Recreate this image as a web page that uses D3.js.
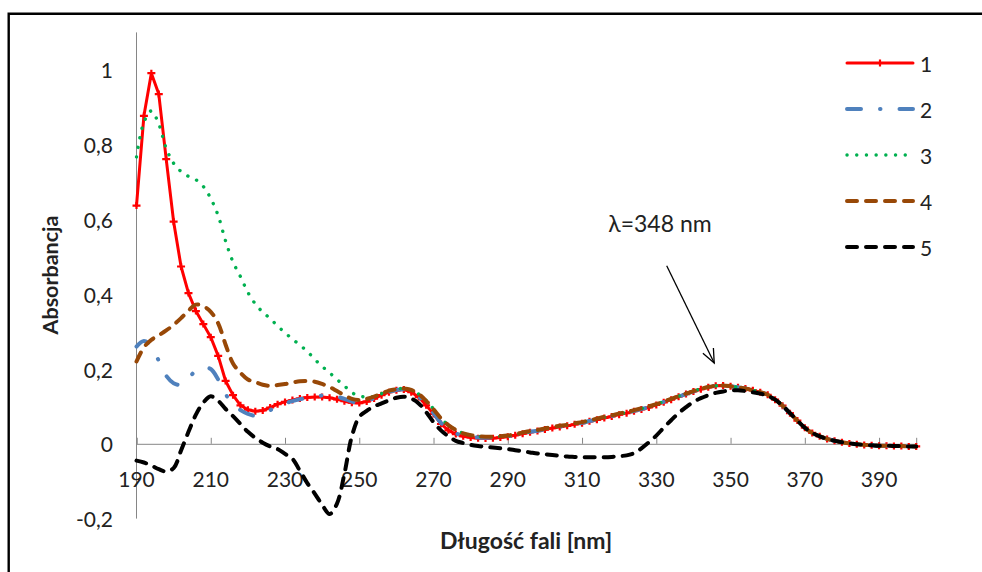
<!DOCTYPE html>
<html>
<head>
<meta charset="utf-8">
<script src="https://cdn.jsdelivr.net/npm/d3@7"></script>
<style>
  html, body { margin: 0; padding: 0; background: #fff; }
  svg { display: block; }
  text { font-family: Lato, "Open Sans", sans-serif; fill: #222; }
</style>
</head>
<body>
<svg id="chart" width="982" height="572"></svg>
<script>
// Wavelength grid (nm), every 2 nm from 190 to 400
const wavelengths = d3.range(190, 401, 2);

// Absorbance of each sample on the wavelength grid
const series1 = [
  0.637, 0.877, 0.991, 0.935, 0.761, 0.594, 0.474, 0.403, 0.355, 0.320,
  0.285, 0.235, 0.168, 0.130, 0.103, 0.091, 0.087, 0.089, 0.097, 0.106,
  0.112, 0.117, 0.121, 0.124, 0.125, 0.125, 0.123, 0.119, 0.114, 0.110,
  0.109, 0.113, 0.121, 0.130, 0.138, 0.143, 0.145, 0.138, 0.125, 0.103,
  0.080, 0.053, 0.036, 0.026, 0.020, 0.017, 0.015, 0.014, 0.015, 0.017,
  0.019, 0.023, 0.027, 0.031, 0.034, 0.038, 0.042, 0.045, 0.048, 0.052,
  0.055, 0.060, 0.064, 0.069, 0.073, 0.078, 0.082, 0.087, 0.092, 0.097,
  0.104, 0.111, 0.118, 0.126, 0.133, 0.140, 0.146, 0.151, 0.155, 0.156,
  0.154, 0.151, 0.148, 0.143, 0.138, 0.131, 0.118, 0.102, 0.082, 0.062,
  0.043, 0.029, 0.020, 0.013, 0.008, 0.004, 0.001, -0.001, -0.003, -0.004,
  -0.005, -0.005, -0.006, -0.006, -0.007, -0.007
];
const series2 = [
  0.260, 0.275, 0.260, 0.222, 0.182, 0.162, 0.158, 0.175, 0.196, 0.204,
  0.200, 0.172, 0.133, 0.105, 0.090, 0.080, 0.075, 0.080, 0.090, 0.100,
  0.108, 0.114, 0.119, 0.123, 0.127, 0.129, 0.129, 0.126, 0.120, 0.113,
  0.110, 0.114, 0.122, 0.131, 0.139, 0.144, 0.146, 0.139, 0.126, 0.105,
  0.082, 0.056, 0.038, 0.028, 0.022, 0.019, 0.017, 0.016, 0.017, 0.019,
  0.020, 0.024, 0.028, 0.032, 0.035, 0.039, 0.043, 0.046, 0.049, 0.053,
  0.056, 0.061, 0.065, 0.070, 0.074, 0.079, 0.083, 0.088, 0.093, 0.098,
  0.105, 0.112, 0.119, 0.126, 0.133, 0.140, 0.146, 0.151, 0.155, 0.156,
  0.154, 0.151, 0.148, 0.143, 0.138, 0.131, 0.118, 0.102, 0.082, 0.062,
  0.043, 0.029, 0.020, 0.013, 0.008, 0.004, 0.001, -0.001, -0.003, -0.004,
  -0.005, -0.005, -0.006, -0.006, -0.007, -0.007
];
const series3 = [
  0.767, 0.860, 0.890, 0.855, 0.790, 0.750, 0.728, 0.715, 0.706, 0.688,
  0.656, 0.610, 0.542, 0.486, 0.447, 0.405, 0.374, 0.352, 0.335, 0.315,
  0.297, 0.280, 0.264, 0.247, 0.226, 0.207, 0.190, 0.172, 0.155, 0.137,
  0.128, 0.125, 0.127, 0.134, 0.141, 0.146, 0.148, 0.144, 0.133, 0.116,
  0.093, 0.068, 0.050, 0.037, 0.028, 0.023, 0.020, 0.019, 0.019, 0.020,
  0.021, 0.025, 0.029, 0.033, 0.036, 0.040, 0.044, 0.047, 0.050, 0.054,
  0.057, 0.062, 0.066, 0.071, 0.075, 0.080, 0.084, 0.089, 0.094, 0.099,
  0.106, 0.113, 0.120, 0.127, 0.134, 0.141, 0.147, 0.152, 0.155, 0.156,
  0.154, 0.151, 0.148, 0.143, 0.138, 0.131, 0.118, 0.102, 0.082, 0.062,
  0.043, 0.029, 0.020, 0.013, 0.008, 0.004, 0.001, -0.001, -0.003, -0.004,
  -0.005, -0.005, -0.006, -0.006, -0.007, -0.007
];
const series4 = [
  0.220, 0.258, 0.278, 0.290, 0.303, 0.318, 0.336, 0.356, 0.372, 0.368,
  0.353, 0.322, 0.265, 0.215, 0.190, 0.172, 0.165, 0.158, 0.155, 0.157,
  0.160, 0.164, 0.167, 0.168, 0.166, 0.160, 0.152, 0.141, 0.130, 0.120,
  0.117, 0.120, 0.126, 0.134, 0.142, 0.146, 0.148, 0.144, 0.133, 0.115,
  0.092, 0.068, 0.050, 0.037, 0.028, 0.023, 0.020, 0.019, 0.019, 0.020,
  0.022, 0.026, 0.030, 0.034, 0.037, 0.041, 0.045, 0.048, 0.051, 0.055,
  0.058, 0.063, 0.067, 0.072, 0.076, 0.081, 0.085, 0.090, 0.095, 0.100,
  0.106, 0.113, 0.120, 0.127, 0.134, 0.141, 0.147, 0.152, 0.155, 0.156,
  0.154, 0.151, 0.148, 0.143, 0.138, 0.131, 0.118, 0.102, 0.082, 0.062,
  0.043, 0.029, 0.020, 0.013, 0.008, 0.004, 0.001, -0.001, -0.003, -0.004,
  -0.005, -0.005, -0.006, -0.006, -0.007, -0.007
];
const series5 = [
  -0.045, -0.050, -0.058, -0.068, -0.074, -0.065, -0.018, 0.032, 0.078, 0.110,
  0.127, 0.115, 0.093, 0.074, 0.053, 0.032, 0.016, 0.003, -0.007, -0.014,
  -0.027, -0.040, -0.072, -0.105, -0.133, -0.163, -0.188, -0.160, -0.080, 0.020,
  0.072, 0.088, 0.100, 0.108, 0.116, 0.123, 0.126, 0.121, 0.108, 0.085,
  0.058, 0.036, 0.020, 0.008, 0.002, -0.003, -0.006, -0.008, -0.010, -0.012,
  -0.014, -0.017, -0.020, -0.023, -0.026, -0.028, -0.030, -0.032, -0.034, -0.035,
  -0.036, -0.036, -0.036, -0.036, -0.035, -0.033, -0.031, -0.025, -0.012, 0.004,
  0.022, 0.043, 0.063, 0.082, 0.098, 0.112, 0.122, 0.130, 0.136, 0.140,
  0.143, 0.143, 0.141, 0.138, 0.134, 0.128, 0.118, 0.102, 0.082, 0.062,
  0.043, 0.029, 0.020, 0.013, 0.008, 0.004, 0.001, -0.001, -0.003, -0.004,
  -0.005, -0.005, -0.006, -0.006, -0.007, -0.007
];

const seriesNames = ["1", "2", "3", "4", "5"];
const xTicks = [190, 210, 230, 250, 270, 290, 310, 330, 350, 370, 390];
const yTicks = [-0.2, 0, 0.2, 0.4, 0.6, 0.8, 1];
const xTitle = "Długość fali [nm]";
const yTitle = "Absorbancja";
// Peak annotation: label position, arrow start and arrow tip in data units
const peakLabel = "λ=348 nm";
const peakText = [331, 0.59];
const arrowFrom = [332.8, 0.476];
const arrowTo = [345.6, 0.216];

const svg = d3.select("#chart");

const x = d3.scaleLinear().domain([190, 400]).range([136.5, 916.2]);
const y = d3.scaleLinear().domain([-0.2, 1.1]).range([518.6, 32.4]);

// Frame around the figure
svg.append("path")
  .attr("d", "M8.7,572V13.8H982")
  .attr("fill", "none").attr("stroke", "#000").attr("stroke-width", 2.4);

const axisColor = "#868686";
// Decimal comma and plain hyphen for negatives
const comma = d => String(d).replace(".", ",");

// Y axis: line only, labels to the left
svg.append("line")
  .attr("x1", x(190)).attr("x2", x(190))
  .attr("y1", y(1.1)).attr("y2", y(-0.2))
  .attr("stroke", axisColor).attr("stroke-width", 1);
svg.append("g").selectAll("text").data(yTicks).join("text")
  .attr("x", 113).attr("y", d => y(d))
  .attr("text-anchor", "end").attr("dominant-baseline", "central")
  .attr("font-size", 21)
  .text(d => comma(d));

// X axis crossing at zero with inward ticks
const xAxis = d3.axisTop(x).tickValues(xTicks).tickSize(6).tickFormat("");
const gx = svg.append("g").attr("transform", `translate(0,${y(0)})`).call(xAxis);
gx.select(".domain").attr("stroke", axisColor);
gx.selectAll(".tick line").attr("stroke", axisColor);
svg.append("g").selectAll("text").data(xTicks).join("text")
  .attr("x", d => x(d)).attr("y", 478)
  .attr("text-anchor", "middle").attr("dominant-baseline", "central")
  .attr("font-size", 21)
  .text(d => d);

// Axis titles
svg.append("text")
  .attr("x", 526).attr("y", 540)
  .attr("text-anchor", "middle").attr("dominant-baseline", "central")
  .attr("font-size", 23).attr("font-weight", "bold")
  .text(xTitle);
svg.append("text")
  .attr("transform", "translate(50,275) rotate(-90)")
  .attr("text-anchor", "middle").attr("dominant-baseline", "central")
  .attr("font-size", 21.5).attr("font-weight", "bold")
  .text(yTitle);

// Line styles per sample
const styles = [
  { color: "#FF0000", width: 3, dash: null, cap: "round", curve: d3.curveLinear, marker: true },
  { color: "#4F81BD", width: 4, dash: "14,19,0.5,19", cap: "round", curve: d3.curveCatmullRom, marker: false },
  { color: "#00B050", width: 3.4, dash: "0.1,9.6", cap: "round", curve: d3.curveCatmullRom, marker: false },
  { color: "#984807", width: 4, dash: "10,9", cap: "round", curve: d3.curveCatmullRom, marker: false },
  { color: "#000000", width: 4, dash: "10,9", cap: "round", curve: d3.curveCatmullRom, marker: false }
];
const allSeries = [series1, series2, series3, series4, series5];

const plus = "M-4,0H4M0,-3.5V3.5";

allSeries.forEach((vals, i) => {
  const st = styles[i];
  const pts = wavelengths.map((w, k) => [w, vals[k]]);
  const line = d3.line().x(d => x(d[0])).y(d => y(d[1])).curve(st.curve);
  svg.append("path")
    .attr("d", line(pts))
    .attr("fill", "none")
    .attr("stroke", st.color)
    .attr("stroke-width", st.width)
    .attr("stroke-linecap", st.cap)
    .attr("stroke-linejoin", "round")
    .attr("stroke-dasharray", st.dash);
  if (st.marker) {
    svg.append("g").selectAll("path").data(pts).join("path")
      .attr("transform", d => `translate(${x(d[0])},${y(d[1])})`)
      .attr("d", plus)
      .attr("stroke", st.color).attr("stroke-width", 2.2).attr("fill", "none");
  }
});

// Legend
const legendY = [63, 109, 155, 201, 247];
const lg = svg.append("g");
seriesNames.forEach((name, i) => {
  const st = styles[i];
  lg.append("line")
    .attr("x1", 847).attr("x2", 913)
    .attr("y1", legendY[i]).attr("y2", legendY[i])
    .attr("stroke", st.color).attr("stroke-width", st.width)
    .attr("stroke-linecap", st.cap)
    .attr("stroke-dasharray", st.dash);
  if (st.marker) {
    lg.append("path")
      .attr("transform", `translate(880,${legendY[i]})`)
      .attr("d", plus)
      .attr("stroke", st.color).attr("stroke-width", 2.2).attr("fill", "none");
  }
  lg.append("text")
    .attr("x", 920).attr("y", legendY[i])
    .attr("dominant-baseline", "central")
    .attr("font-size", 21)
    .text(name);
});

// Peak annotation with an open arrowhead
svg.append("text")
  .attr("x", x(peakText[0])).attr("y", y(peakText[1]))
  .attr("text-anchor", "middle").attr("dominant-baseline", "central")
  .attr("font-size", 23)
  .text(peakLabel);
const ax0 = x(arrowFrom[0]), ay0 = y(arrowFrom[1]);
const ax1 = x(arrowTo[0]), ay1 = y(arrowTo[1]);
svg.append("line")
  .attr("x1", ax0).attr("y1", ay0).attr("x2", ax1).attr("y2", ay1)
  .attr("stroke", "#000").attr("stroke-width", 1.3);
const ang = Math.atan2(ay1 - ay0, ax1 - ax0);
const headLen = 15, spread = 0.4;
const head = [ang + Math.PI - spread, ang + Math.PI + spread]
  .map(a => [ax1 + headLen * Math.cos(a), ay1 + headLen * Math.sin(a)]);
svg.append("path")
  .attr("d", `M${head[0][0]},${head[0][1]}L${ax1},${ay1}L${head[1][0]},${head[1][1]}`)
  .attr("fill", "none").attr("stroke", "#000").attr("stroke-width", 1.3);
</script>
</body>
</html>
